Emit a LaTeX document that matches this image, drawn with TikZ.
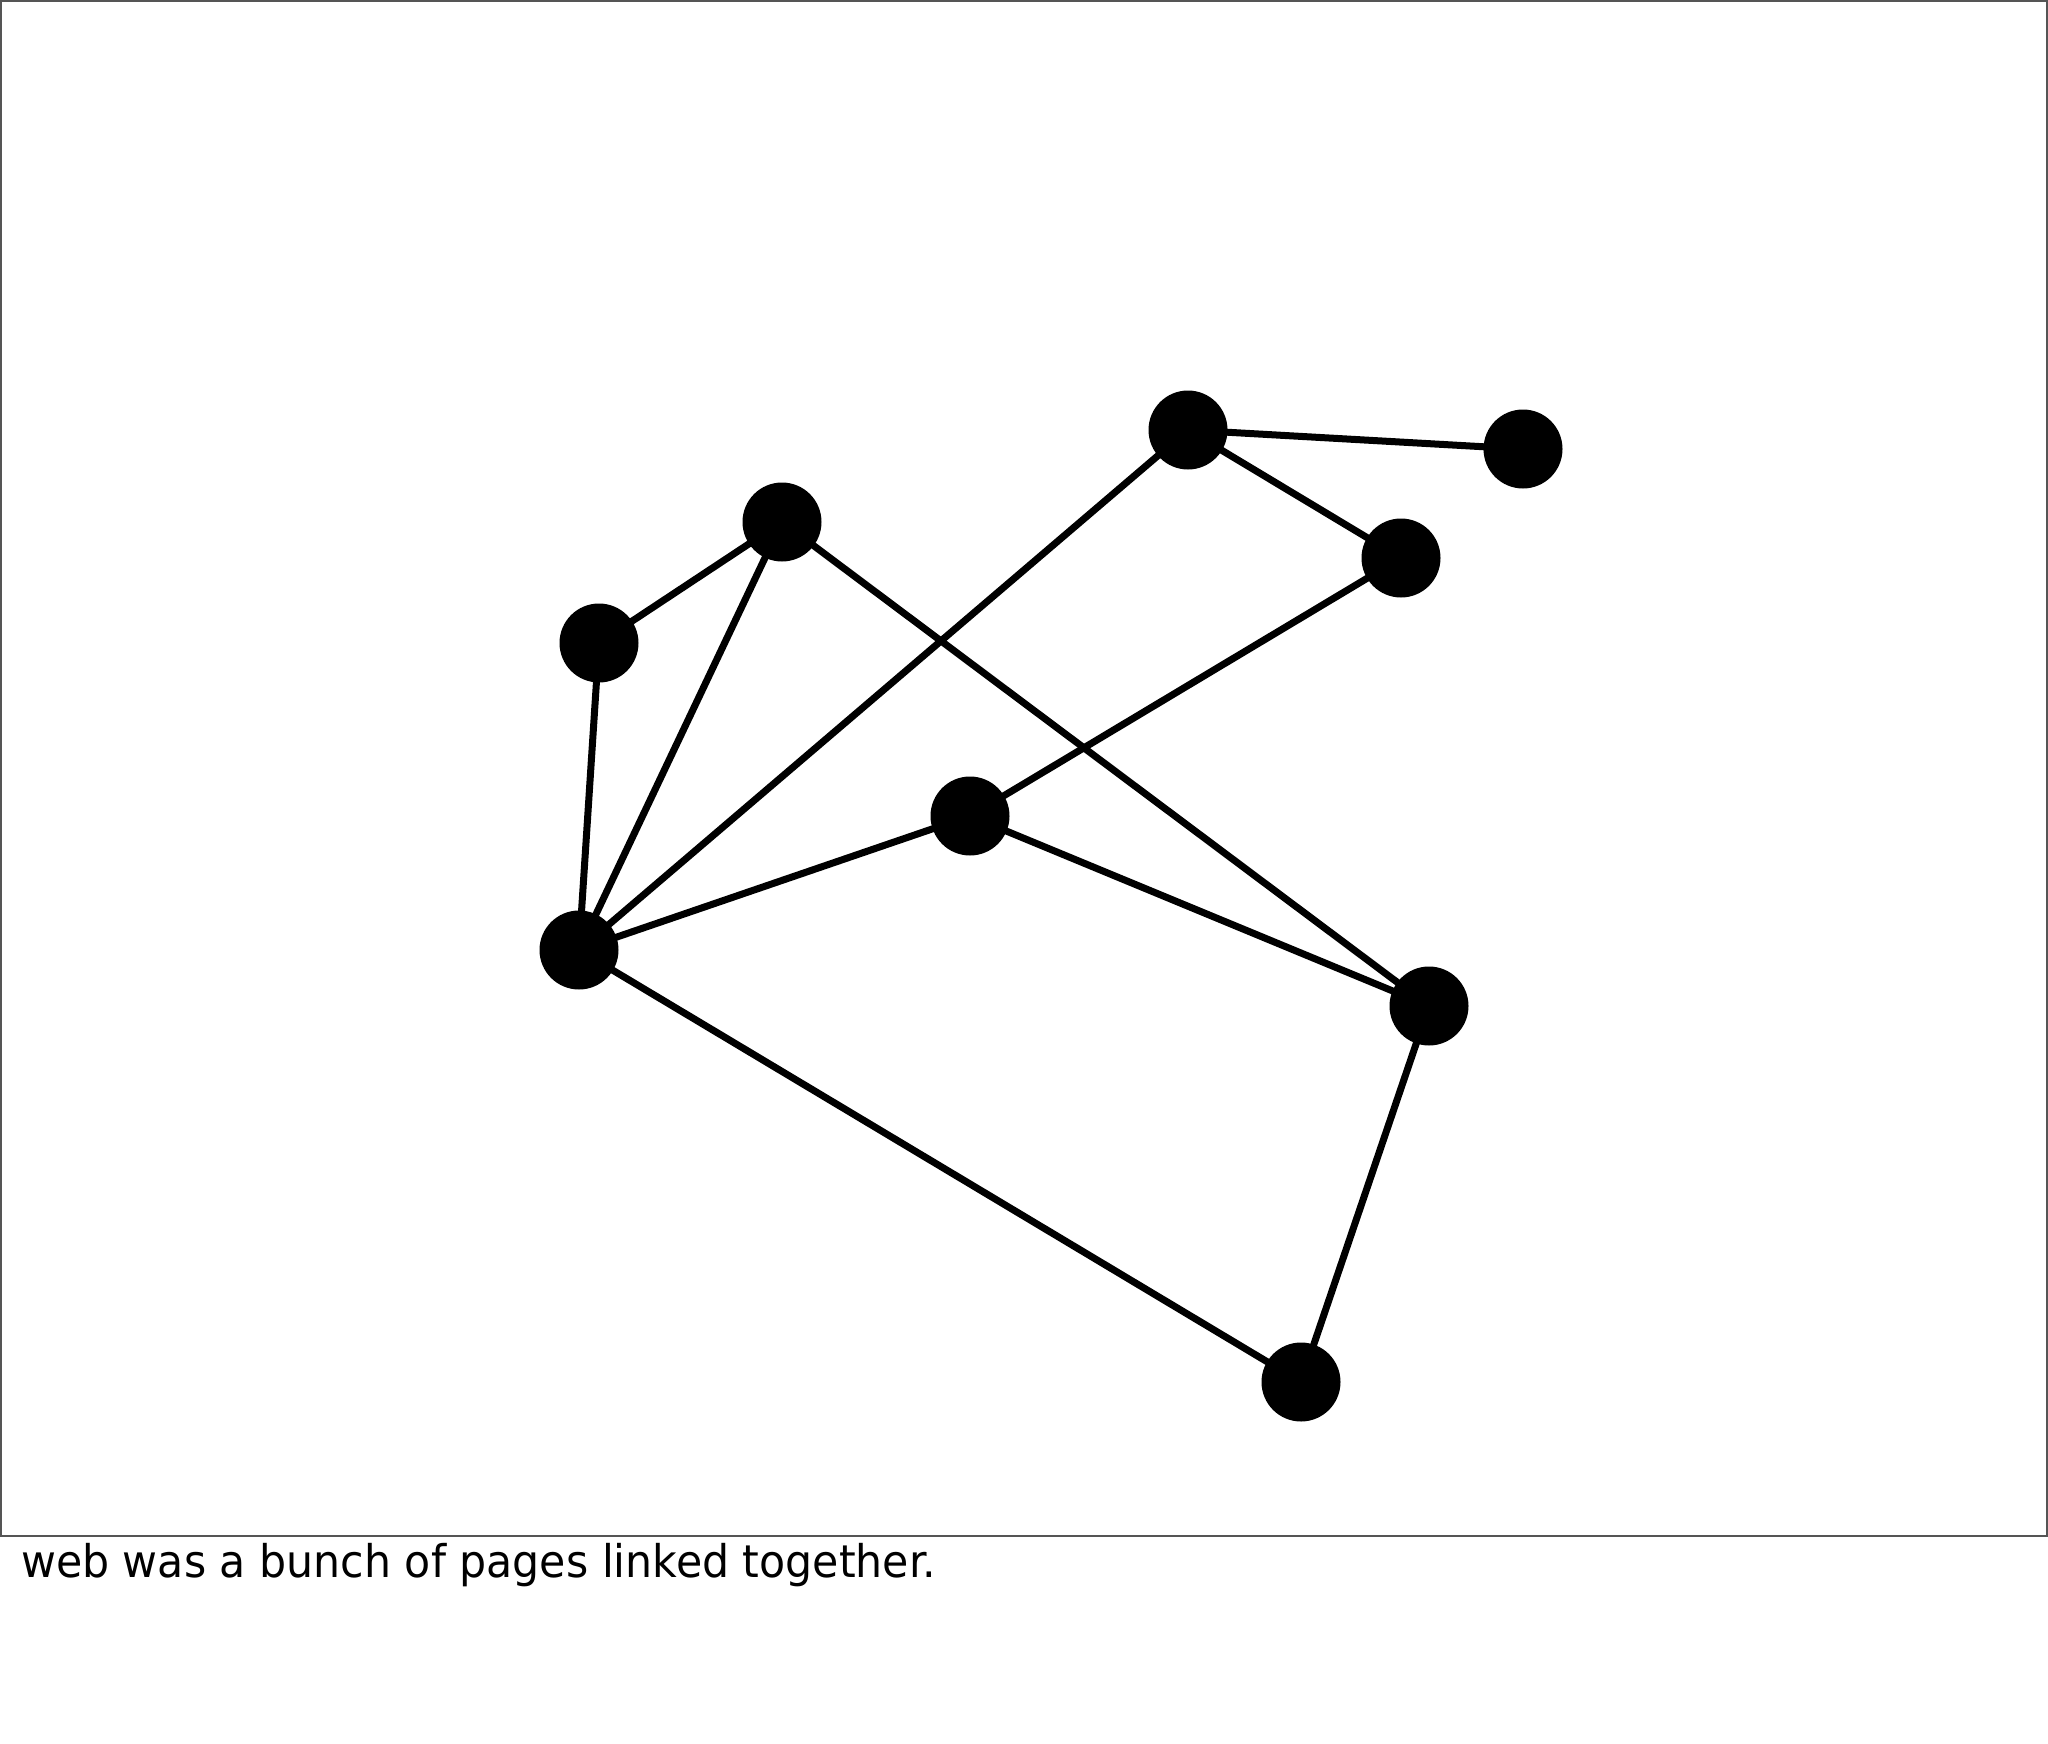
\documentclass[tikz,border=0pt]{standalone}
\usepackage{fontspec}
\setmainfont{DejaVu Sans}
\begin{document}
\begin{tikzpicture}[x=1pt,y=-1pt,
  page/.style={circle,fill=black,minimum size=79pt,inner sep=0pt},
  link/.style={line width=7pt,black}]
\useasboundingbox (0,0) rectangle (2048,1744);
\fill[white] (0,0) rectangle (2048,1744);
\draw[line width=2pt,color={rgb,255:red,85;green,85;blue,85}] (1,1) rectangle (2047,1536);
\node[page] (A) at (1188,430) {};
\node[page] (B) at (1523,449) {};
\node[page] (C) at (1401,558) {};
\node[page] (D) at (782,522) {};
\node[page] (E) at (599,643) {};
\node[page] (F) at (970,816) {};
\node[page] (G) at (579,950) {};
\node[page] (H) at (1429,1006) {};
\node[page] (I) at (1301,1382) {};
\begin{scope}[on background layer/.try]
\end{scope}
\draw[link] (A.center) -- (B.center);
\draw[link] (A.center) -- (C.center);
\draw[link] (A.center) -- (G.center);
\draw[link] (D.center) -- (E.center);
\draw[link] (D.center) -- (G.center);
\draw[link] (D.center) -- (H.center);
\draw[link] (E.center) -- (G.center);
\draw[link] (C.center) -- (F.center);
\draw[link] (F.center) -- (G.center);
\draw[link] (F.center) -- (H.center);
\draw[link] (G.center) -- (I.center);
\draw[link] (H.center) -- (I.center);
\node[anchor=base west,inner sep=0pt] (cap) at (21,1577)
  {\resizebox{915pt}{\height}{\fontsize{45}{54}\selectfont web was a bunch of pages linked together.}};
\end{tikzpicture}
\end{document}
